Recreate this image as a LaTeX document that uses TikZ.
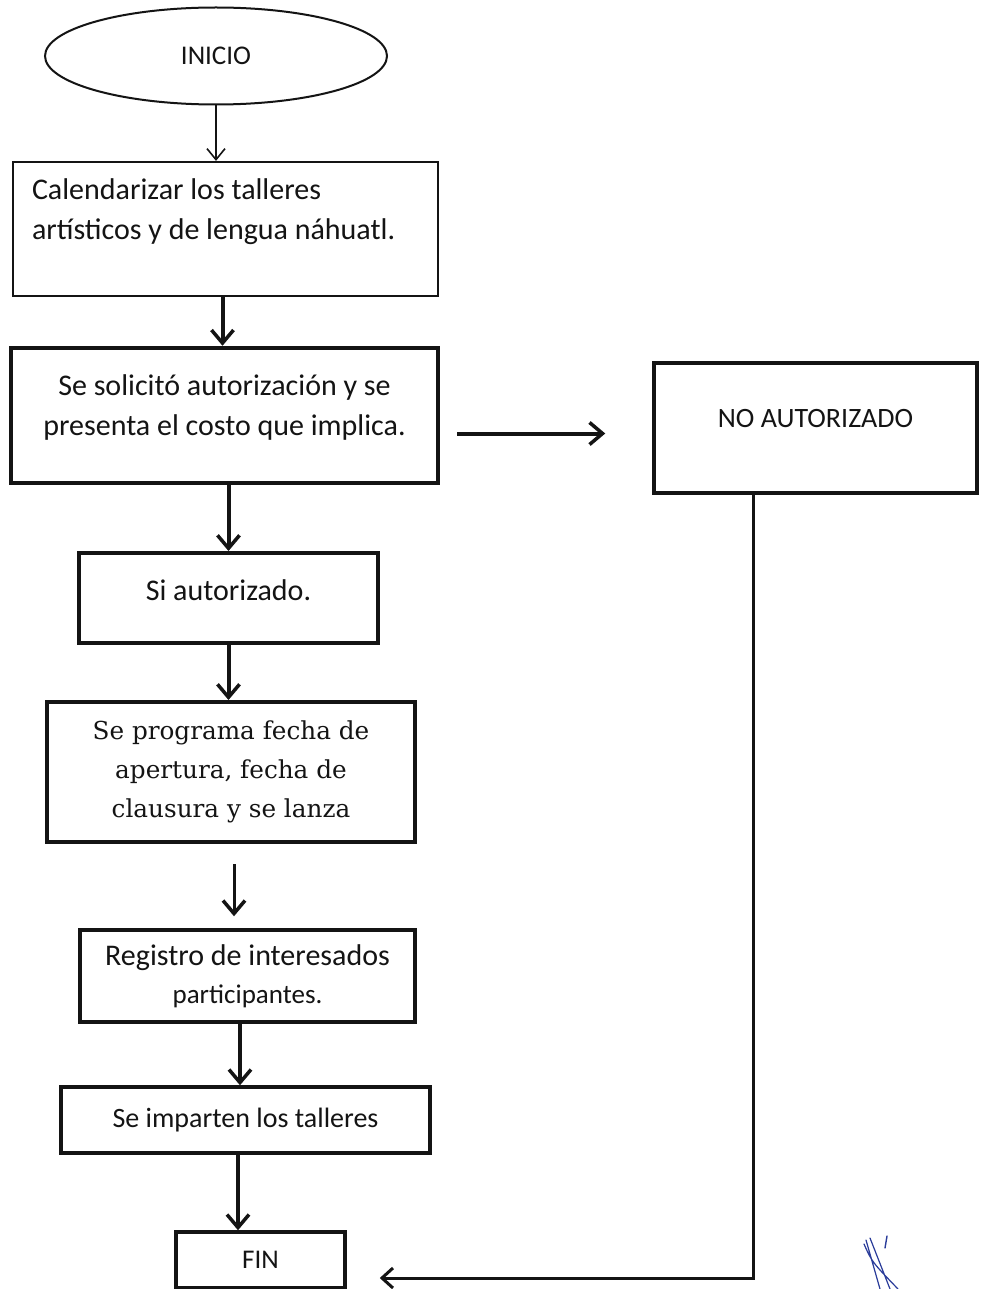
\documentclass[tikz,border=0pt]{standalone}
\usepackage{fontspec}
\setmainfont{Carlito}
\newfontfamily\serifbox{DejaVu Serif}
\usetikzlibrary{arrows.meta,shapes.geometric}
\definecolor{ink}{HTML}{141414}
\definecolor{pen}{HTML}{2A3C9A}
\begin{document}
\begin{tikzpicture}[x=1pt,y=-1pt,
  box/.style={draw=ink,rectangle,line width=3.5pt,inner sep=0pt,align=center,
    text=ink,font=\fontsize{30}{40}\selectfont},
  thintip/.style={-{Straight Barb[length=11pt,width=18pt,line width=1.6pt]}},
  thicktip/.style={-{Straight Barb[length=13pt,width=22pt,line width=3.5pt]}},
  thinline/.style={draw=ink,line width=1.6pt},
  thickline/.style={draw=ink,line width=4pt},
  medline/.style={draw=ink,line width=3pt}]
\useasboundingbox (0,0) rectangle (980,1289);
\fill[white] (0,0) rectangle (980,1289);

% nodes
\node[ellipse,draw=ink,line width=2pt,minimum width=342pt,minimum height=97pt,inner sep=0pt,
      text=ink,font=\fontsize{27}{32}\selectfont] (ini) at (216,56) {INICIO};

\node[box,line width=2.2pt,minimum width=425pt,minimum height=134pt,text width=387pt,
      align=flush left,font=\fontsize{30}{40}\selectfont]
  (b1) at (225.5,229) {Calendarizar los talleres\\artísticos y de lengua náhuatl.\\\mbox{}};

\node[box,line width=4.5pt,minimum width=427pt,minimum height=135pt]
  (b2) at (224.5,415.5) {Se solicitó autorización y se\\presenta el costo que implica.\\[-20pt]\mbox{}};

\node[box,line width=4pt,minimum width=299pt,minimum height=90pt]
  (b3) at (228.5,598) {Si autorizado.\\[-24pt]\mbox{}};

\node[box,line width=4pt,minimum width=368pt,minimum height=140pt,
      font=\serifbox\fontsize{24.7}{39}\selectfont]
  (b4) at (231,772) {Se programa fecha de\\apertura, fecha de\\clausura y se lanza};

\node[box,line width=3.5pt,minimum width=335pt,minimum height=92pt]
  (b5) at (247.5,976) {Registro de interesados\\[-2pt]{\fontsize{27}{30}\selectfont participantes.}};

\node[box,line width=3.5pt,minimum width=369pt,minimum height=66pt,font=\fontsize{28}{34}\selectfont]
  (b6) at (245.5,1120) {Se imparten los talleres};

\node[box,line width=3.5pt,minimum width=169pt,minimum height=56pt,font=\fontsize{27}{32}\selectfont]
  (fin) at (260.5,1260) {FIN};

\node[box,line width=3.5pt,minimum width=323pt,minimum height=130pt,font=\fontsize{28}{40}\selectfont]
  (no) at (815.5,428) {NO AUTORIZADO\\[-20pt]\mbox{}};

% connectors
\draw[thinline,thintip] (ini.south) -- (ini.south |- b1.north);
\coordinate (a2) at ([xshift=-3pt]b1.south);
\draw[thickline,thicktip] (a2) -- (a2 |- b2.north);
\draw[thickline,thicktip] (b3.north |- b2.south) -- (b3.north);
\draw[thickline,thicktip] (b3.south) -- (b3.south |- b4.north);
\coordinate (a5) at ([xshift=3pt]b4.south);
\draw[medline,thicktip,shorten <=20pt,shorten >=12pt] (a5) -- (a5 |- b5.north);
\coordinate (a6) at ([xshift=-7.5pt]b5.south);
\draw[thickline,thicktip] (a6) -- (a6 |- b6.north);
\coordinate (a7) at ([xshift=-7.5pt]b6.south);
\draw[thickline,thicktip] (a7) -- (a7 |- fin.north);
\coordinate (h1) at ([yshift=-18pt]b2.east);
\draw[thickline,thicktip,shorten <=17pt,shorten >=47pt] (h1) -- (h1 -| no.west);
\coordinate (v1) at ([xshift=-62.5pt]no.south);
\coordinate (h2) at ([yshift=-18pt]fin.east);
\draw[medline,-{Straight Barb[length=11pt,width=20pt,line width=3pt]},shorten >=33pt] (v1) |- (h2);

% handwritten mark
\draw[pen,line width=1.2pt,line cap=round,line join=round]
  (866,1240) -- (880,1289) (870,1238) -- (890,1289) (864,1244) .. controls (872,1262) .. (898,1289);
\draw[pen,line width=1.4pt,line cap=round] (887,1236) -- (885,1248);
\end{tikzpicture}
\end{document}
